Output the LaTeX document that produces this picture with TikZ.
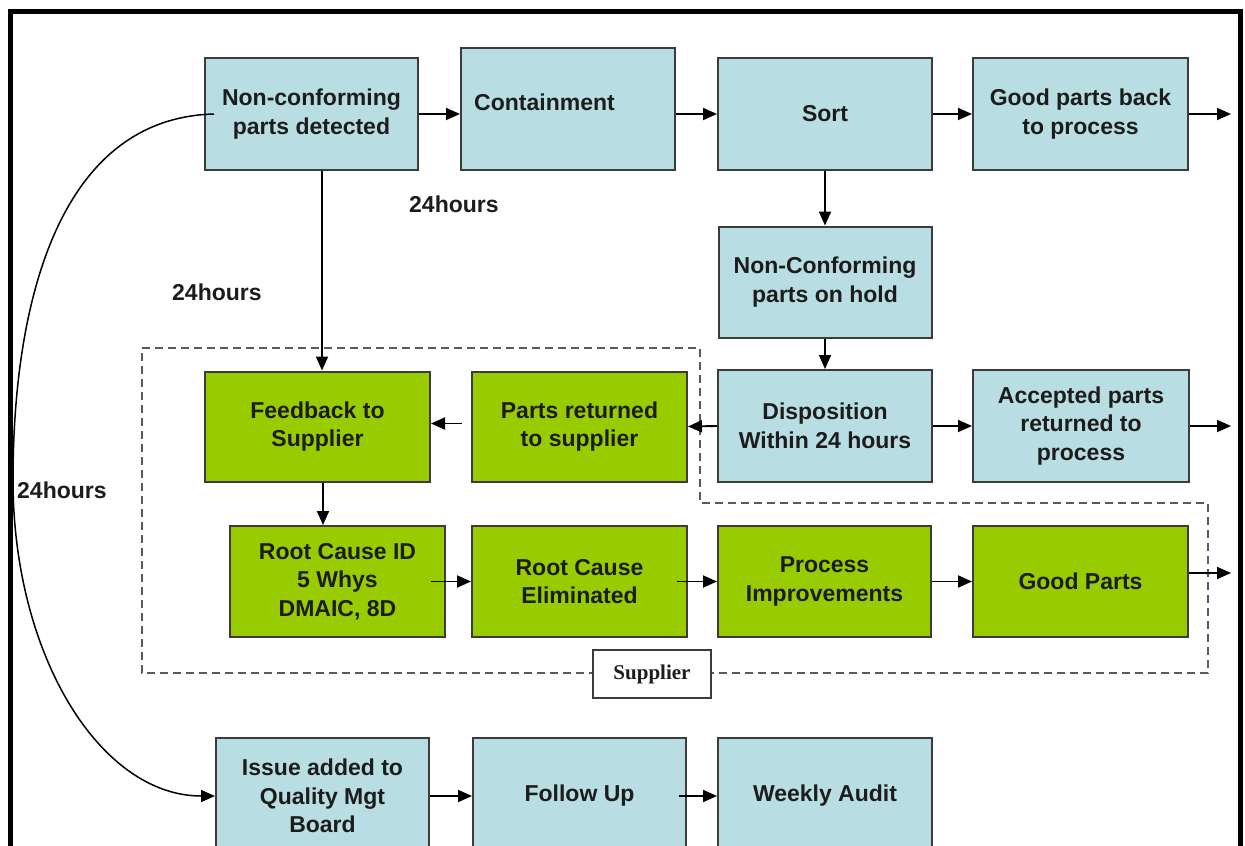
\documentclass[tikz,border=0pt]{standalone}
\usepackage{fontspec}
\setmainfont{Liberation Sans}
\newfontfamily\labelserif{Liberation Serif}
\usetikzlibrary{arrows.meta}
\definecolor{boxblue}{HTML}{B8DEE3}
\definecolor{boxgreen}{HTML}{99CC00}
\definecolor{boxedge}{HTML}{3C3C3C}
\definecolor{inktext}{HTML}{1C1C1C}
\definecolor{dashgray}{HTML}{5A5A5A}
\begin{document}
\begin{tikzpicture}[x=1pt,y=-1pt,
  every node/.style={font=\fontsize{23}{28.5}\selectfont\bfseries, text=inktext},
  procbox/.style={draw=boxedge, line width=2pt, inner sep=0pt, align=center},
  bluebox/.style={procbox, fill=boxblue},
  greenbox/.style={procbox, fill=boxgreen},
  flow/.style={line width=1.9pt, draw=black, -{Triangle[length=14pt,width=12pt]}},
  hours/.style={anchor=west, inner sep=0pt},
  zone/.style={draw=dashgray, line width=1.8pt, dash pattern=on 8pt off 5pt}]
\useasboundingbox (0,0) rectangle (1245,846);
\clip (0,0) rectangle (1245,846);

% outer frame (open at the bottom edge)
\draw[line width=5pt] (10.5,870) -- (10.5,11.5) -- (1240,11.5) -- (1240,870);

% supplier zone
\draw[zone] (142,348) -- (700,348) -- (700,503) -- (1208,503) -- (1208,673) -- (142,673) -- cycle;
\node[draw=boxedge, line width=1.2pt, fill=white, minimum width=118pt, minimum height=48pt,
      inner sep=0pt, font=\fontsize{21}{24}\selectfont\labelserif\bfseries] (supp) at (652,674) {Supplier};

% first row
\node[bluebox, minimum width=213pt, minimum height=112pt] (nc) at (311.5,114) {Non-conforming\\parts detected};
\node[bluebox, minimum width=214pt, minimum height=122pt] (cont) at (568,109) {};
\node[anchor=west, inner sep=0pt] (conttxt) at ([xshift=14pt,yshift=7pt]cont.west) {Containment};
\node[bluebox, minimum width=214pt, minimum height=112pt] (sort) at (825,114) {Sort};
\node[bluebox, minimum width=215pt, minimum height=112pt] (good) at (1080.5,114) {Good parts back\\to process};
\coordinate (goodout) at (1231,114);

% sorting branch
\node[bluebox, minimum width=213pt, minimum height=111pt] (hold) at (825,282) {Non-Conforming\\parts on hold};
\node[bluebox, minimum width=214pt, minimum height=112pt] (disp) at (825,426) {Disposition\\Within 24 hours};
\node[bluebox, minimum width=216pt, minimum height=112pt] (acc) at (1081,426) {Accepted parts\\returned to\\process};
\coordinate (accout) at (1231,426);

% supplier loop
\node[greenbox, minimum width=225pt, minimum height=110pt] (fb) at (317.5,426.5) {Feedback to\\Supplier};
\node[greenbox, minimum width=215pt, minimum height=110pt] (parts) at (579.5,426.5) {Parts returned\\to supplier};
\node[greenbox, minimum width=215pt, minimum height=111pt] (rcid) at (337.5,581.5) {Root Cause ID\\5 Whys\\DMAIC, 8D};
\node[greenbox, minimum width=215pt, minimum height=111pt] (rce) at (579.5,581.5) {Root Cause\\Eliminated};
\node[greenbox, minimum width=213pt, minimum height=111pt] (pi) at (824.5,581.5) {Process\\Improvements};
\node[greenbox, minimum width=215pt, minimum height=111pt] (gp) at (1080.5,581.5) {Good Parts};
\coordinate (gpout) at (1231,573);

% management row
\node[bluebox, minimum width=213pt, minimum height=116pt] (issue) at (322.5,796) {Issue added to\\Quality Mgt\\Board};
\node[bluebox, minimum width=213pt, minimum height=116pt] (follow) at (579.5,796) {Follow Up};
\node[bluebox, minimum width=214pt, minimum height=116pt] (weekly) at (825,796) {Weekly Audit};

% time labels
\node[hours] (h1) at (409,204) {24hours};
\node[hours] (h2) at (172,292) {24hours};
\node[hours] (h3) at (17,490) {24hours};

% connectors, first row
\draw[flow] (nc.east) -- (nc.east -| cont.west);
\draw[flow] (sort.west -| cont.east) -- (sort.west);
\draw[flow] (sort.east) -- (good.west);
\draw[flow] (good.east) -- (goodout);

% connectors, sorting branch
\draw[flow] (sort.south) -- (hold.north);
\draw[flow] (hold.south) -- (disp.north);
\draw[flow] (disp.east) -- (acc.west);
\draw[flow] (acc.east) -- (accout);
\draw[flow] (disp.west) -- (parts.east);

% connectors, supplier loop
\draw[flow] ([xshift=10.5pt]nc.south) -- ([xshift=10.5pt]nc.south |- fb.north);
\draw[flow] ([xshift=-9pt,yshift=3pt]parts.west) -- ([yshift=3pt]fb.east);
\draw[flow] ([xshift=5.5pt]fb.south) -- ([xshift=5.5pt]fb.south |- rcid.north);
\draw[flow] ([xshift=-15pt]rcid.east) -- (rce.west);
\draw[flow] ([xshift=-11pt]rce.east) -- (pi.west);
\draw[flow] (pi.east) -- (gp.west);
\draw[flow] (gp.east |- gpout) -- (gpout);

% connectors, management row
\draw[flow] (issue.east) -- (follow.west);
\draw[flow] ([xshift=-8pt]follow.east) -- (weekly.west);
\draw[line width=1.5pt, -{Triangle[length=14pt,width=12pt]}]
  ([xshift=10pt]nc.west) .. controls (60,118) and (13,300) .. (13,480)
  .. controls (13,655) and (100,796) .. (issue.west);
\end{tikzpicture}
\end{document}
